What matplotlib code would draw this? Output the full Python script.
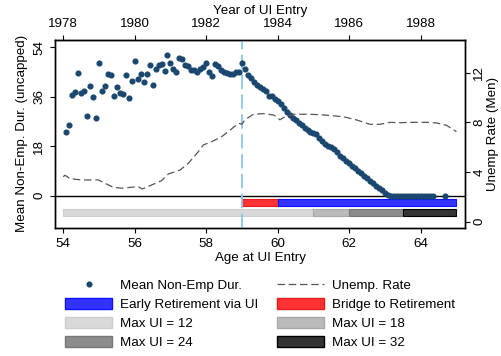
import matplotlib
matplotlib.use("Agg")
import matplotlib.pyplot as plt
import numpy as np
from matplotlib.lines import Line2D
from matplotlib.patches import Patch

plt.rcParams["font.family"] = ["Liberation Sans", "DejaVu Sans"]
plt.rcParams["font.size"] = 9.6

# Mean non-employment duration by monthly age bin (first bin = 54 + 1/12)
dur = [
    23.0, 25.7, 36.5, 37.6, 44.5, 37.5, 38.2, 29.1, 40.0, 36.0, 28.1, 48.1,
    38.1, 39.9, 44.3, 43.8, 36.1, 39.4, 37.5, 36.9, 43.9, 35.5, 41.8, 48.9,
    42.5, 44.4, 41.5, 44.1, 47.4, 40.1, 46.1, 47.5, 47.8, 45.5, 51.2, 48.1,
    46.0, 45.1, 50.2, 49.6, 47.5, 47.3, 45.7, 45.6, 44.9, 46.0, 46.9, 48.4,
    44.9, 43.5, 47.9, 47.1, 45.8, 45.0, 44.5, 44.3, 44.1, 44.9, 45.1, 48.1,
    46.1, 43.9, 42.7, 41.2, 40.3, 39.4, 38.8, 38.2, 36.4, 36.1, 35.2, 34.4,
    33.2, 31.8, 30.5, 29.3, 28.4, 27.4, 26.5, 25.7, 24.7, 23.9, 23.1, 22.8,
    22.3, 20.9, 20.0, 18.7, 18.2, 17.6, 16.8, 16.0, 14.6, 13.6, 12.7, 11.8,
    10.9, 10.0, 9.1, 8.2, 7.3, 6.4, 5.5, 4.6, 3.7, 2.8, 1.9, 1.0,
    0.2, 0, 0, 0, 0, 0, 0, 0, 0, 0, 0, 0,
    0, 0, 0, 0, np.nan, np.nan, np.nan, 0,
]
dur_age = 54 + np.arange(1, len(dur) + 1) / 12

# Unemployment rate (men)
ur_age = [54.00, 54.05, 54.19, 54.50, 54.98, 55.17, 55.40, 55.63, 55.91, 56.10,
          56.21, 56.47, 56.75, 56.94, 57.27, 57.50, 57.78, 57.92, 58.15, 58.43,
          58.67, 58.90, 59.00, 59.08, 59.32, 59.60, 59.88, 59.97, 60.06, 60.20,
          60.44, 60.81, 61.19, 61.46, 61.84, 62.21, 62.58, 62.86, 63.14, 63.42,
          63.79, 64.17, 64.45, 64.73, 65.00]
ur_rate = [3.62, 3.74, 3.46, 3.36, 3.36, 3.09, 2.77, 2.69, 2.77, 2.82,
           2.63, 2.95, 3.30, 3.84, 4.16, 4.70, 5.64, 6.18, 6.44, 6.84,
           7.38, 7.92, 7.85, 8.20, 8.65, 8.70, 8.59, 8.45, 8.20, 8.45,
           8.65, 8.65, 8.62, 8.55, 8.45, 8.19, 7.84, 7.84, 8.00, 7.97,
           8.00, 8.00, 7.95, 7.75, 7.25]

# Institutional bars
cutoff_age = 59
retire_edges = [59, 60, 65]
retire_labels = ["Bridge to Retirement", "Early Retirement via UI"]
retire_fill = ["#ff3333", "#3333ff"]
retire_edge = ["#e81c1c", "#1010ff"]

maxui_edges = [54, 61, 62, 63.5, 65]
maxui_labels = ["Max UI = 12", "Max UI = 18", "Max UI = 24", "Max UI = 32"]
maxui_fill = ["#d9d9d9", "#bbbbbb", "#8c8c8c", "#333333"]
maxui_edge = ["#cdcdcd", "#a8a8a8", "#777777", "#000000"]

navy = "#1a476f"

fig = plt.figure(figsize=(5.01, 3.56), dpi=100)
ax = fig.add_axes([0.1098, 0.3596, 0.8184, 0.5294])
ax2 = ax.twinx()

ax.axhline(0, color="black", linewidth=1.0, zorder=2)

for i in range(len(retire_labels)):
    ax.barh(-2.4, retire_edges[i + 1] - retire_edges[i], left=retire_edges[i],
            height=2.4, color=retire_fill[i], edgecolor=retire_edge[i],
            linewidth=0.8, zorder=3)
for i in range(len(maxui_labels)):
    ax.barh(-6.05, maxui_edges[i + 1] - maxui_edges[i], left=maxui_edges[i],
            height=2.4, color=maxui_fill[i], edgecolor=maxui_edge[i],
            linewidth=0.8, zorder=3)

ax.plot(dur_age, dur, "o", color=navy, markersize=3.4, zorder=5)
ax.axvline(cutoff_age, color="#8ac7ef", linewidth=1.3, dashes=(8, 3), zorder=4)

ax2.plot(ur_age, ur_rate, color="#555555", linewidth=0.9, dashes=(6, 3))

ax.set_xlim(53.77, 65.24)
ax.set_ylim(-11.75, 56.8)
ax2.set_ylim(-0.51, 14.67)

ax.set_xticks([54, 56, 58, 60, 62, 64])
ax.set_yticks([0, 18, 36, 54])
ax2.set_yticks([0, 4, 8, 12])
ax.set_xlabel("Age at UI Entry", labelpad=2)
ax.set_ylabel("Mean Non-Emp. Dur. (uncapped)", labelpad=4)
ax2.set_ylabel("Unemp Rate (Men)", rotation=90, labelpad=1)

ax.tick_params(axis="y", labelrotation=90)
ax2.tick_params(axis="y", labelrotation=90, pad=2.5)
for lbl in ax.get_yticklabels() + ax2.get_yticklabels():
    lbl.set_va("center")

top = ax.secondary_xaxis("top", functions=(lambda a: a + 1924, lambda y: y - 1924))
top.set_xticks([1978, 1980, 1982, 1984, 1986, 1988])
top.set_xlabel("Year of UI Entry", labelpad=3)

for a in (ax, ax2):
    for sp in a.spines.values():
        sp.set_linewidth(1.0)

handles = [
    Line2D([], [], marker="o", linestyle="none", color=navy, markersize=3.4),
    Patch(facecolor=retire_fill[1], edgecolor=retire_edge[1]),
    Patch(facecolor=maxui_fill[0], edgecolor=maxui_edge[0]),
    Patch(facecolor=maxui_fill[2], edgecolor=maxui_edge[2]),
    Line2D([], [], color="#555555", linewidth=0.9, dashes=(6, 3)),
    Patch(facecolor=retire_fill[0], edgecolor=retire_edge[0]),
    Patch(facecolor=maxui_fill[1], edgecolor=maxui_edge[1]),
    Patch(facecolor=maxui_fill[3], edgecolor=maxui_edge[3]),
]
labels = ["Mean Non-Emp Dur.", "Early Retirement via UI", maxui_labels[0],
          maxui_labels[2], "Unemp. Rate", retire_labels[0], maxui_labels[1],
          maxui_labels[3]]
fig.legend(handles, labels, ncol=2, loc="upper center",
           bbox_to_anchor=(0.519, 0.235), frameon=False,
           handlelength=3.5, handleheight=0.95, handletextpad=0.6,
           labelspacing=0.42, columnspacing=1.4, borderpad=0)

fig.savefig("out.png", dpi=100)
